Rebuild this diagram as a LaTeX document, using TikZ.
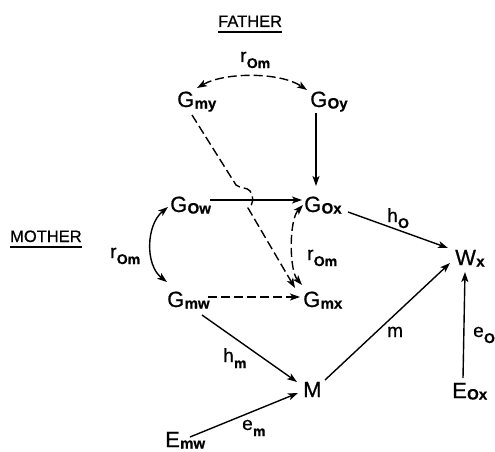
\documentclass[tikz,border=0pt]{standalone}
\usepackage{fontspec}
\setmainfont{Liberation Sans}[FakeBold=0.7]
\usetikzlibrary{arrows.meta}
% subscripts: near the baseline for capitals, lowered for small letters
\newcommand{\gsb}[1]{\kern0.3pt\raisebox{-1.5pt}{\fontsize{15}{15}\selectfont\bfseries #1}}
\newcommand{\lsb}[1]{\kern0.3pt\raisebox{-6pt}{\fontsize{14}{14}\selectfont\bfseries #1}}
\begin{document}
\begin{tikzpicture}[x=1pt,y=-1pt,
  var/.style={anchor=base west,inner sep=0pt,font=\fontsize{22}{22}\selectfont},
  lbl/.style={anchor=base west,inner sep=0pt,font=\fontsize{19}{19}\selectfont},
  head/.style={anchor=base west,inner sep=0pt,font=\fontsize{16.5}{16.5}\selectfont},
  tip/.tip={Stealth[length=10pt,width=7pt,inset=2.5pt]},
  causal/.style={line width=1.4pt,-tip},
  corr/.style={line width=1.4pt,tip-tip},
  dsh/.style={dash pattern=on 9pt off 4pt}]
\useasboundingbox (0,0) rectangle (495,452);

% headings
\node[head] (father) at (218,27) {FATHER};
\node[head] (mother) at (10,242) {MOTHER};
\draw[line width=1.3pt] ([yshift=-5pt]father.base west) -- ([yshift=-5pt]father.base east);
\draw[line width=1.3pt] ([yshift=-5pt]mother.base west) -- ([yshift=-5pt]mother.base east);

% variables
\node[var] (Gmy) at (177,107) {G\gsb{my}};
\node[var] (Goy) at (310,107) {G\gsb{Oy}};
\node[var] (Gow) at (170,212) {G\gsb{Ow}};
\node[var] (Gox) at (304,212) {G\gsb{Ox}};
\node[var] (Gmw) at (167,307) {G\gsb{mw}};
\node[var] (Gmx) at (303,307) {G\gsb{mx}};
\node[var] (M)   at (303,397) {M};
\node[var] (Wx)  at (455,265) {W\gsb{x}};
\node[var] (Eox) at (452,398) {E\gsb{Ox}};
\node[var] (Emw) at (165,447) {E\gsb{mw}};

% path labels
\node[lbl] (rtop) at (240,62) {r\lsb{Om}};
\node[lbl] (rleft) at (110,258) {r\lsb{Om}};
\node[lbl] (rright) at (307,260) {r\lsb{Om}};
\node[lbl] (hO) at (387,222) {h\lsb{O}};
\node[lbl] (hm) at (223,362) {h\lsb{m}};
\node[lbl] (mlab) at (387,337) {m};
\node[lbl] (eO) at (473,337) {e\lsb{O}};
\node[lbl] (em) at (242,430) {e\lsb{m}};

% correlations
\draw[corr,dsh] ([xshift=20pt,yshift=19pt]Gmy.base west)
  .. controls +(28,-16) and +(-27,-18) .. ([xshift=-3pt,yshift=17pt]Goy.base west);
\draw[corr] ([xshift=-2pt,yshift=5pt]Gow.base west)
  .. controls +(-22,18) and +(-22,-17) .. ([yshift=25pt]Gmw.base west);
\draw[corr,dsh] ([xshift=-1pt,yshift=7pt]Gox.base west)
  .. controls +(-14,15) and +(-13,-15) .. ([xshift=-1pt,yshift=22pt]Gmx.base west);

% causal paths
\draw[causal] ([xshift=6pt,yshift=-6pt]Goy.base west) -- ([xshift=12pt,yshift=26pt]Gox.base west);
\draw[causal] ([xshift=40pt,yshift=12pt]Gow.base west) -- ([xshift=-2pt,yshift=12pt]Gox.base west);
\draw[causal,dsh] ([xshift=41pt,yshift=10pt]Gmw.base west) -- ([xshift=-3pt,yshift=10pt]Gmx.base west);
\draw[causal,dsh] ([xshift=15pt,yshift=-8pt]Gmy.base west) -- (236,185)
  .. controls (241,189) and (247,187) .. (250,191)
  .. controls (254,196) and (254,205) .. (248,208)
  -- ([xshift=-8pt,yshift=19pt]Gmx.base west);
\draw[causal] ([xshift=44pt]Gox.base west) -- ([xshift=-7pt,yshift=17pt]Wx.base west);
\draw[causal] ([xshift=35pt,yshift=-8pt]Gmw.base west) -- ([xshift=-6pt,yshift=15pt]M.base west);
\draw[causal] ([xshift=22pt,yshift=17pt]M.base west) -- ([xshift=-5pt,yshift=2pt]Wx.base west);
\draw[causal] ([xshift=11pt,yshift=20pt]Eox.base west) -- ([xshift=10pt,yshift=-7pt]Wx.base west);
\draw[causal] ([xshift=25pt,yshift=10pt]Emw.base west) -- ([xshift=-5pt,yshift=4pt]M.base west);
\end{tikzpicture}
\end{document}
